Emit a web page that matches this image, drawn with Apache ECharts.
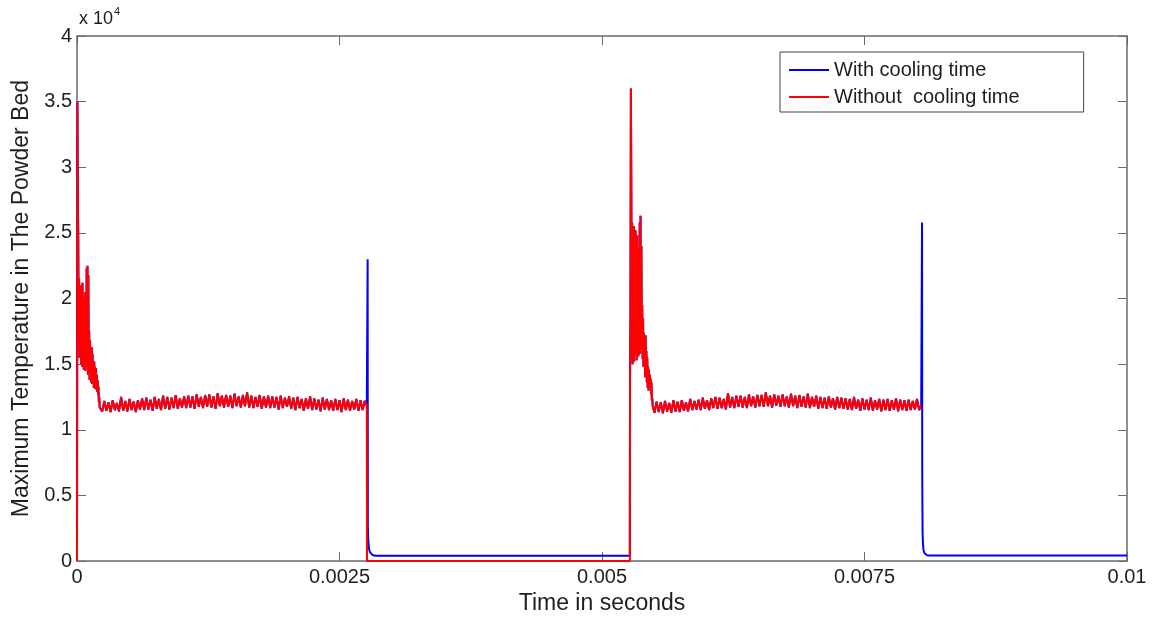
<!DOCTYPE html>
<html>
<head>
<meta charset="utf-8">
<script src="https://cdn.jsdelivr.net/npm/echarts@6/dist/echarts.min.js"></script>
<style>
  html, body { margin: 0; padding: 0; background: #ffffff; }
  #chart { width: 1160px; height: 620px; }
</style>
</head>
<body>
<div id="chart"></div>
<script>
// ---- tick labels ----
const xTickLabels = ['0', '0.0025', '0.005', '0.0075', '0.01'];
const yTickLabels = ['0', '0.5', '1', '1.5', '2', '2.5', '3', '3.5', '4'];
const seriesNames = ['With cooling time', 'Without  cooling time'];

// ---- first heating: start-up burst (sampled every 4 µs from t = 0) ----
const burst1Start = 0;
const burstStep = 0.000004;
const burst1Temp = [
  0, 35000, 28000, 24500, 16500, 21500, 15500, 20500, 16000, 21000,
  15000, 19500, 14800, 21200, 15500, 20000, 14600, 19000, 15200, 20500,
  14500, 18500, 14800, 22300, 15000, 22500, 14200, 21800, 14500, 17500,
  13800, 16800, 14200, 15500, 13600, 16300, 13500, 15800, 13800, 14600,
  13200, 15200, 13400, 14800, 13100, 14700, 13300, 14200, 12900, 13800,
  12700, 13300, 12100, 12500, 11700, 11800
];

// ---- first heating: steady plateau (sampled every 20 µs) ----
const plateau1Start = 0.00024;
const plateauStep = 0.00002;
const plateau1Temp = [
  11400, 12200, 11450, 12100, 11350, 12250, 11500, 12050, 11400, 12500,
  11450, 12200, 11400, 12350, 11500, 12150, 11350, 12250, 11550, 12400,
  11500, 12450, 11550, 12300, 11450, 12500, 11600, 12350, 11500, 12600,
  11600, 12500, 11550, 12450, 11650, 12650, 11600, 12400, 11700, 12550,
  11650, 12600, 11700, 12550, 11600, 12700, 11750, 12500, 11650, 12650,
  11750, 12700, 11700, 12550, 11600, 12800, 11800, 12600, 11700, 12650,
  11750, 12600, 11650, 12750, 11800, 12550, 11700, 12650, 11800, 12850,
  11700, 12600, 11650, 12500, 11750, 12650, 11600, 12550, 11700, 12600,
  11650, 12550, 11700, 12500, 11550, 12600, 11650, 12450, 11750, 12550,
  11600, 12450, 11500, 12500, 11650, 12350, 11450, 12400, 11600, 12550,
  11500, 12400, 11550, 12300, 11400, 12450, 11550, 12350, 11500, 12250,
  11450, 12350, 11500, 12250, 11350, 12400, 11500, 12300, 11450, 12200,
  11550, 12350, 11450, 12250, 11500, 12200, 11850
];

// ---- second heating: burst (every 4 µs) ----
const burst2Start = 0.005267;
const burst2Temp = [
  13900, 18800, 36000, 29000, 15500, 25800, 15000, 24500, 17800, 25500,
  15200, 23000, 15800, 25200, 16500, 22500, 15300, 24800, 16000, 21000,
  15600, 23800, 17200, 25800, 15800, 26300, 16200, 24000, 17000, 19500,
  15400, 18500, 14800, 17400, 15200, 16800, 14000, 17200, 14500, 16000,
  13600, 15500, 13200, 14800, 13000, 14600, 13500, 14200, 13100, 13900,
  12700, 13600, 12200, 12400, 11800
];

// ---- second heating: plateau (every 20 µs) ----
const plateau2Start = 0.0055;
const plateau2Temp = [
  11300, 12150, 11350, 12100, 11250, 12200, 11400, 12050, 11300, 12250,
  11400, 12150, 11350, 12250, 11450, 12100, 11400, 12350, 11500, 12200,
  11550, 12300, 11500, 12450, 11600, 12250, 11500, 12400, 11650, 12500,
  11600, 12450, 11650, 12350, 11550, 12800, 11700, 12500, 11650, 12600,
  11750, 12600, 11700, 12500, 11650, 12700, 11800, 12550, 11700, 12650,
  11800, 12650, 11750, 12850, 11800, 12600, 11700, 12700, 11850, 12600,
  11750, 12700, 11800, 12550, 11700, 12750, 11800, 12600, 11650, 12650,
  11750, 12550, 11700, 12750, 11650, 12500, 11750, 12600, 11600, 12500,
  11650, 12450, 11600, 12550, 11700, 12400, 11550, 12500, 11650, 12450,
  11600, 12400, 11550, 12350, 11500, 12500, 11600, 12300, 11450, 12400,
  11550, 12300, 11500, 12450, 11450, 12250, 11550, 12350, 11400, 12300,
  11500, 12350, 11450, 12250, 11550, 12400, 11400, 12300, 11500, 12250,
  11450, 12300, 11500, 12200, 11550, 12350, 11500, 11900
];

// ---- cooling phases (with cooling time only) ----
const cool1Time = [0.002768, 0.00277, 0.002773, 0.002777, 0.002782, 0.00279, 0.0028, 0.002815, 0.00284, 0.005265];
const cool1Temp = [23000, 2700, 1800, 1250, 900, 680, 540, 460, 410, 400];
const cool2Time = [0.008048, 0.00805, 0.008053, 0.008057, 0.008062, 0.00807, 0.00808, 0.008095, 0.00812, 0.01];
const cool2Temp = [25800, 6600, 2200, 1300, 850, 620, 500, 450, 420, 420];

// ---- idle gap (without cooling time) ----
const gapTime = [0.002762, 0.005265];
const gapTemp = [0, 0];

// ---- build series ----
function sampled(start, step, vals) { return vals.map((v, i) => [start + i * step, v]); }
function paired(ts, vs) { return ts.map((t, i) => [t, vs[i]]); }

const heat1 = sampled(burst1Start, burstStep, burst1Temp).concat(sampled(plateau1Start, plateauStep, plateau1Temp));
const heat2 = sampled(burst2Start, burstStep, burst2Temp).concat(sampled(plateau2Start, plateauStep, plateau2Temp));

const blueData = heat1.concat(paired(cool1Time, cool1Temp), heat2, paired(cool2Time, cool2Temp));
const redData = heat1.concat(paired(gapTime, gapTemp), heat2);

const FONT = '"Liberation Sans", Arial, sans-serif';
const axisColor = '#6a6a6a';
const textColor = '#1e1e1e';

const chart = echarts.init(document.getElementById('chart'), null, { renderer: 'canvas' });

const xLab = v => xTickLabels[Math.round(v / 0.0025)] ?? '';
const yLab = v => yTickLabels[Math.round(v / 5000)] ?? '';

const frameLine = { show: true, onZero: false, lineStyle: { color: axisColor, width: 1.5 } };
const frameTick = { show: true, inside: true, length: 9, lineStyle: { color: axisColor, width: 1 } };

chart.setOption({
  animation: false,
  backgroundColor: '#ffffff',
  grid: { left: 77, right: 33, top: 36, bottom: 55, containLabel: false },
  xAxis: [
    {
      type: 'value', min: 0, max: 0.01, interval: 0.0025, position: 'bottom',
      axisLine: frameLine, axisTick: frameTick, splitLine: { show: false },
      axisLabel: { formatter: xLab, color: textColor, fontSize: 20, fontFamily: FONT, margin: 6 },
      name: 'Time in seconds', nameLocation: 'middle', nameGap: 29,
      nameTextStyle: { color: textColor, fontSize: 23, fontFamily: FONT }
    },
    {
      type: 'value', min: 0, max: 0.01, interval: 0.0025, position: 'top',
      axisLine: frameLine, axisTick: frameTick, splitLine: { show: false },
      axisLabel: { show: false }
    }
  ],
  yAxis: [
    {
      type: 'value', min: 0, max: 40000, interval: 5000, position: 'left',
      axisLine: frameLine, axisTick: frameTick, splitLine: { show: false },
      axisLabel: { formatter: yLab, color: textColor, fontSize: 20, fontFamily: FONT, margin: 5 },
      name: 'Maximum Temperature in The Powder Bed', nameLocation: 'middle', nameGap: 43, nameRotate: 90,
      nameTextStyle: { color: textColor, fontSize: 23, fontFamily: FONT }
    },
    {
      type: 'value', min: 0, max: 40000, interval: 5000, position: 'right',
      axisLine: frameLine, axisTick: frameTick, splitLine: { show: false },
      axisLabel: { show: false }
    }
  ],
  legend: {
    orient: 'vertical', left: 780, top: 52,
    data: [
      { name: seriesNames[0], icon: 'rect' },
      { name: seriesNames[1], icon: 'rect' }
    ],
    itemWidth: 40, itemHeight: 2, itemGap: 7,
    padding: [8, 64, 5, 9],
    borderColor: '#444', borderWidth: 1, backgroundColor: '#ffffff',
    textStyle: { color: textColor, fontSize: 20, fontFamily: FONT }
  },
  graphic: [
    {
      type: 'text', left: 79, top: 6,
      style: {
        text: '{a|x 10}{b|4}',
        rich: {
          a: { fontSize: 18, fontFamily: FONT, fill: textColor, verticalAlign: 'bottom', lineHeight: 22 },
          b: { fontSize: 11, fontFamily: FONT, fill: textColor, verticalAlign: 'top', padding: [0, 0, 10, 1], lineHeight: 22 }
        }
      }
    }
  ],
  series: [
    {
      name: seriesNames[0], type: 'line', xAxisIndex: 0, yAxisIndex: 0,
      data: blueData, showSymbol: false, symbol: 'none', sampling: null,
      lineStyle: { color: '#0000ff', width: 2 }, itemStyle: { color: '#0000ff' }, z: 2
    },
    {
      name: seriesNames[1], type: 'line', xAxisIndex: 0, yAxisIndex: 0,
      data: redData, showSymbol: false, symbol: 'none', sampling: null,
      lineStyle: { color: '#ff0000', width: 2 }, itemStyle: { color: '#ff0000' }, z: 3
    }
  ]
});
</script>
</body>
</html>
